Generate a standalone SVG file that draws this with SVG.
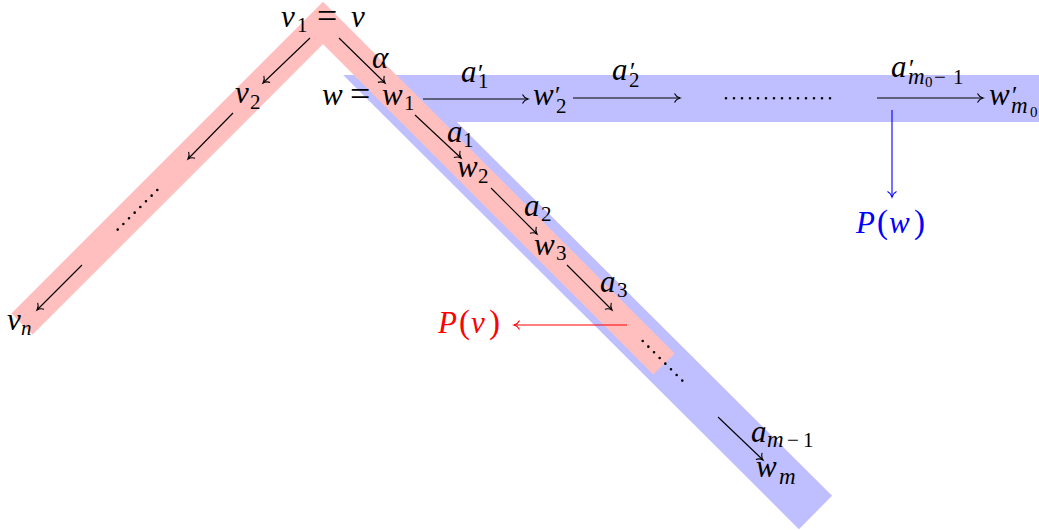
<svg xmlns="http://www.w3.org/2000/svg" width="1039" height="530" viewBox="0 0 1039 530">
<defs>
<style>
.m{font-family:'Liberation Serif','DejaVu Serif',serif;font-style:italic;font-size:31px;fill:#000}
.r{font-style:normal}
.s{font-size:21px}
.ss{font-size:15px}
.eq{font-style:normal;font-size:36px}
.pr{font-style:normal;font-size:25px}
.pa{font-style:normal;font-size:33px}
.ar{fill:none;stroke:#000;stroke-width:1.1}
.dots{fill:none;stroke:#000;stroke-width:2.6;stroke-linecap:round;stroke-dasharray:0 8}
</style>
<marker id="ahk" markerUnits="userSpaceOnUse" markerWidth="12" markerHeight="12" refX="0" refY="0" viewBox="-7 -6 8 12" orient="auto" overflow="visible">
<path d="M-5.5,-4.5 C-4.2,-1.8 -1.8,-0.5 0,0 C-1.8,0.5 -4.2,1.8 -5.5,4.5" fill="none" stroke="#000" stroke-width="1.1"/>
</marker>
<marker id="ahb" markerUnits="userSpaceOnUse" markerWidth="12" markerHeight="12" refX="0" refY="0" viewBox="-7 -6 8 12" orient="auto" overflow="visible">
<path d="M-5.5,-4.5 C-4.2,-1.8 -1.8,-0.5 0,0 C-1.8,0.5 -4.2,1.8 -5.5,4.5" fill="none" stroke="#0000ff" stroke-width="1.1"/>
</marker>
<marker id="ahr" markerUnits="userSpaceOnUse" markerWidth="12" markerHeight="12" refX="0" refY="0" viewBox="-7 -6 8 12" orient="auto" overflow="visible">
<path d="M-5.5,-4.5 C-4.2,-1.8 -1.8,-0.5 0,0 C-1.8,0.5 -4.2,1.8 -5.5,4.5" fill="none" stroke="#ff0000" stroke-width="1.1"/>
</marker>
</defs>
<rect width="1039" height="530" fill="#fff"/>
<g id="bands">
<polyline id="band-w" points="815.5,512.5 400,98.5 1060,98.5" fill="none" stroke="#bfbfff" stroke-width="47" stroke-linejoin="miter" stroke-miterlimit="10"/>
<polyline id="band-v" points="22,324 323,23 664,364" fill="none" stroke="#ffbfbf" stroke-width="30" stroke-linejoin="miter" stroke-miterlimit="10"/>
</g>
<g id="connectors">
<line class="ar" x1="310" y1="38" x2="263" y2="83" marker-end="url(#ahk)"/>
<line class="ar" x1="339" y1="38" x2="385" y2="83" marker-end="url(#ahk)"/>
<line class="ar" x1="423" y1="99" x2="528" y2="99" marker-end="url(#ahk)"/>
<line class="ar" x1="573" y1="98" x2="680" y2="98" marker-end="url(#ahk)"/>
<line class="ar" x1="877" y1="98" x2="983" y2="98" marker-end="url(#ahk)"/>
<line class="ar" x1="415" y1="115" x2="461" y2="158" marker-end="url(#ahk)"/>
<line class="ar" x1="491" y1="188" x2="537" y2="234" marker-end="url(#ahk)"/>
<line class="ar" x1="567" y1="265" x2="612" y2="310" marker-end="url(#ahk)"/>
<line class="ar" x1="718" y1="417" x2="763" y2="460" marker-end="url(#ahk)"/>
<line class="ar" x1="233" y1="113" x2="188" y2="159" marker-end="url(#ahk)"/>
<line class="ar" x1="82" y1="265" x2="37" y2="310" marker-end="url(#ahk)"/>
<line class="ar" x1="892" y1="110" x2="892" y2="197" style="stroke:#0000ff" marker-end="url(#ahb)"/>
<line class="ar" x1="627" y1="325" x2="514" y2="325" style="stroke:#ff0000" marker-end="url(#ahr)"/>
<path class="dots" d="M726,98.3 L830.5,98.3"/>
<path class="dots" d="M642.7,341 L683.5,381.8"/>
<path class="dots" d="M157.3,190 L116.9,230.4"/>
</g>
<g id="node-v1">
<text class="m"><tspan x="281" y="27">v</tspan><tspan class="s r" x="297" y="32">1</tspan><tspan class="eq" x="317" y="28">=</tspan><tspan x="351" y="27">v</tspan></text>
</g>
<g id="node-v2">
<text class="m"><tspan x="235" y="103">v</tspan><tspan class="s r" x="250" y="109">2</tspan></text>
</g>
<g id="node-vn">
<text class="m"><tspan x="7" y="330">v</tspan><tspan class="s" x="21" y="335">n</tspan></text>
</g>
<g id="label-alpha">
<text class="m" x="372" y="68">α</text>
</g>
<g id="node-w1">
<text class="m"><tspan x="322" y="105">w</tspan><tspan class="eq" x="350" y="106">=</tspan><tspan x="382" y="105">w</tspan><tspan class="s r" x="404" y="110">1</tspan></text>
</g>
<g id="label-a1p">
<text class="m"><tspan x="461" y="82">a</tspan><tspan class="pr" x="478" y="82">′</tspan><tspan class="s r" x="478" y="88">1</tspan></text>
</g>
<g id="node-w2p">
<text class="m"><tspan x="533" y="105">w</tspan><tspan class="pr" x="555" y="104">′</tspan><tspan class="s r" x="556" y="113">2</tspan></text>
</g>
<g id="label-a2p">
<text class="m"><tspan x="612" y="80">a</tspan><tspan class="pr" x="630" y="80">′</tspan><tspan class="s r" x="629" y="87">2</tspan></text>
</g>
<g id="label-am0p">
<text class="m"><tspan x="891" y="77">a</tspan><tspan class="pr" x="909" y="77">′</tspan><tspan class="s" x="908" y="84" style="font-size:23px">m</tspan><tspan class="ss r" x="925" y="87">0</tspan><tspan class="s r" x="934" y="84">−</tspan><tspan class="s r" x="953" y="84">1</tspan></text>
</g>
<g id="node-wm0p">
<text class="m"><tspan x="989" y="105">w</tspan><tspan class="pr" x="1012" y="104">′</tspan><tspan class="s" x="1011" y="113" style="font-size:23px">m</tspan><tspan class="ss r" x="1030" y="117">0</tspan></text>
</g>
<g id="node-Pw">
<text class="m" style="fill:#0000ff"><tspan x="856" y="233">P</tspan><tspan class="pa" x="877" y="233">(</tspan><tspan x="889" y="233">w</tspan><tspan class="pa" x="914" y="233">)</tspan></text>
</g>
<g id="node-Pv">
<text class="m" style="fill:#ff0000"><tspan x="438" y="333">P</tspan><tspan class="pa" x="459" y="333">(</tspan><tspan x="471" y="333">v</tspan><tspan class="pa" x="489" y="333">)</tspan></text>
</g>
<g id="label-a1">
<text class="m"><tspan x="447" y="142">a</tspan><tspan class="s r" x="463" y="147">1</tspan></text>
</g>
<g id="node-w2">
<text class="m"><tspan x="457" y="177">w</tspan><tspan class="s r" x="478" y="183">2</tspan></text>
</g>
<g id="label-a2">
<text class="m"><tspan x="524" y="216">a</tspan><tspan class="s r" x="541" y="221">2</tspan></text>
</g>
<g id="node-w3">
<text class="m"><tspan x="534" y="255">w</tspan><tspan class="s r" x="556" y="260">3</tspan></text>
</g>
<g id="label-a3">
<text class="m"><tspan x="600" y="292">a</tspan><tspan class="s r" x="617" y="297">3</tspan></text>
</g>
<g id="label-am1">
<text class="m"><tspan x="751" y="442">a</tspan><tspan class="s" x="767" y="447" style="font-size:23px">m</tspan><tspan class="s r" x="787" y="447">−</tspan><tspan class="s r" x="803" y="447">1</tspan></text>
</g>
<g id="node-wm">
<text class="m"><tspan x="756" y="477">w</tspan><tspan class="s" x="779" y="484" style="font-size:23px">m</tspan></text>
</g>
</svg>
